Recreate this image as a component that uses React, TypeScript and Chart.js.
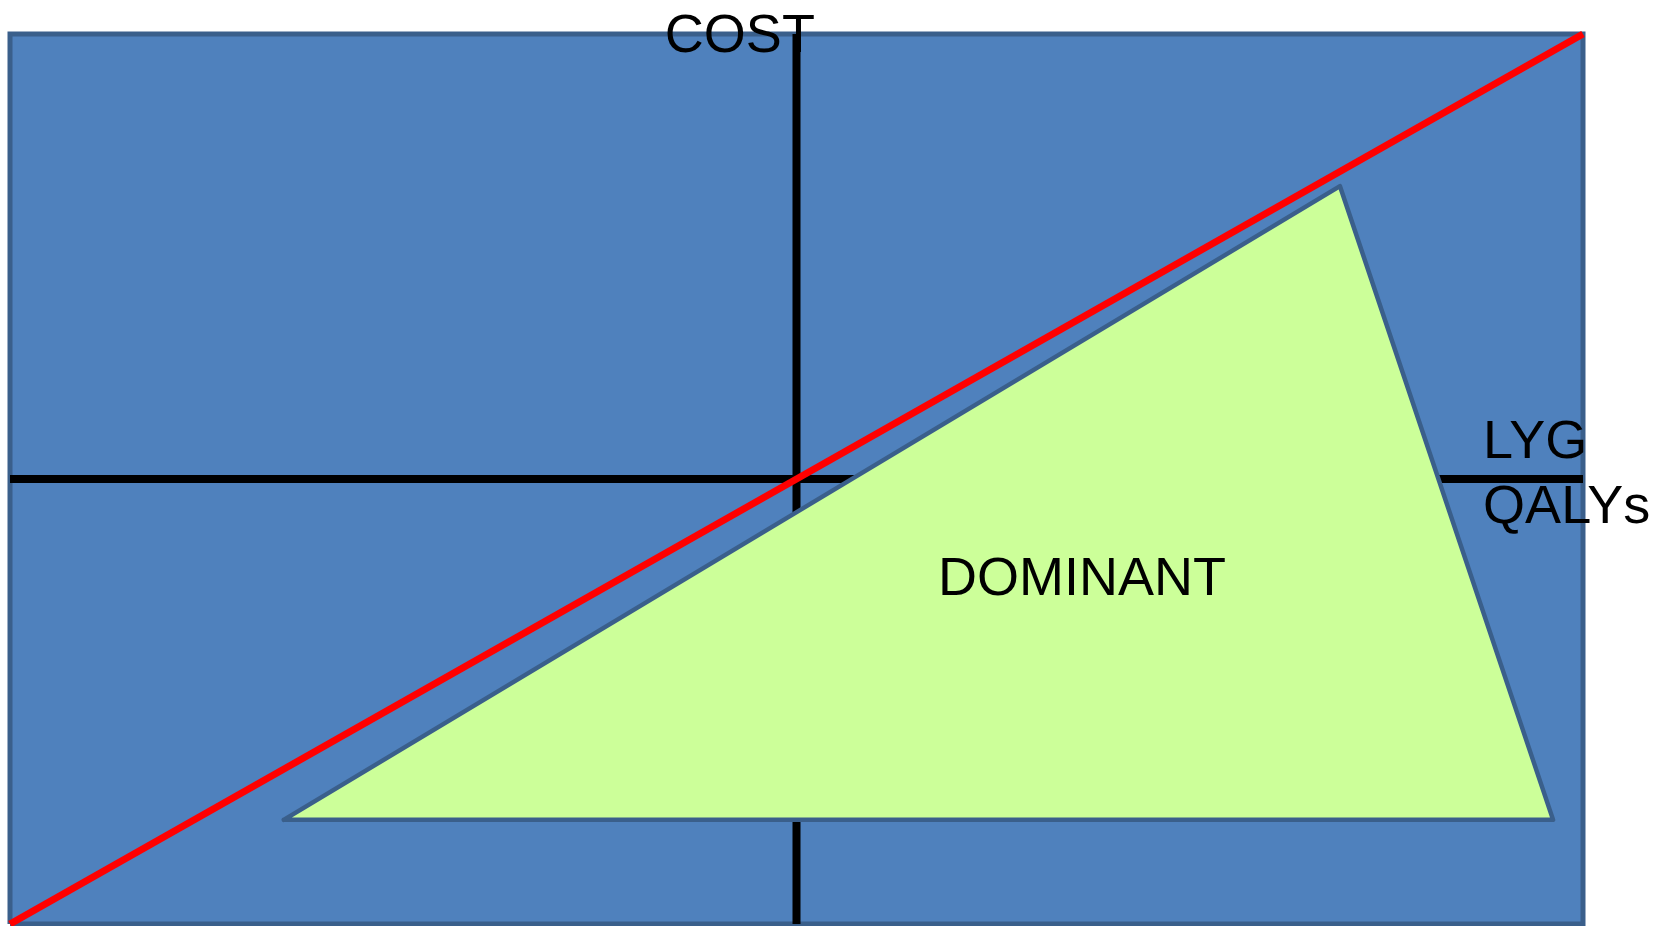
import { useEffect, useRef } from "react";
import { Chart, registerables } from "chart.js";

Chart.register(...registerables);

// Cost-effectiveness plane, in normalised units (-1..1 on both axes)
const planeTopX = [-1, 1];
const planeTopY = [1, 1];
const planeBottom = -1;
const planeX = [-1, -1, 1, 1, -1];
const planeY = [-1, 1, 1, -1, -1];
const costAxisX = [0, 0];
const costAxisY = [-1, 1];
const effectAxisX = [-1, 1];
const effectAxisY = [0, 0];
const thresholdX = [-1, 1];
const thresholdY = [-1, 1];
const dominantTopX = [-0.652, 0.691, 0.962];
const dominantTopY = [-0.766, 0.658, -0.766];
const dominantBase = -0.766;
const dominantX = [-0.652, 0.691, 0.962, -0.652];
const dominantY = [-0.766, 0.658, -0.766, -0.766];

const labelTexts = ["COST", "LYG", "QALYs", "DOMINANT"];
const labelX = [-0.072, 0.873, 0.873, 0.363];
const labelY = [0.96, 0.047, -0.099, -0.261];
const labelAlign: CanvasTextAlign[] = ["center", "left", "left", "center"];

const pts = (xs: number[], ys: number[]) => xs.map((x, i) => ({ x, y: ys[i] }));

export default function App() {
  const ref = useRef<HTMLCanvasElement | null>(null);

  useEffect(() => {
    if (!ref.current) return;
    const labelPlugin = {
      id: "labels",
      afterDatasetsDraw(chart: any) {
        const { ctx, scales } = chart;
        ctx.save();
        ctx.fillStyle = "#000000";
        ctx.font = "54px 'Liberation Sans', Arial, sans-serif";
        ctx.textBaseline = "alphabetic";
        labelTexts.forEach((t, i) => {
          ctx.textAlign = labelAlign[i];
          ctx.fillText(t, scales.x.getPixelForValue(labelX[i]), scales.y.getPixelForValue(labelY[i]));
        });
        ctx.restore();
      },
    };
    const chart = new Chart(ref.current, {
      type: "line",
      data: {
        datasets: [
          {
            label: "plane fill",
            data: pts(planeTopX, planeTopY),
            borderWidth: 0,
            borderColor: "rgba(0,0,0,0)",
            backgroundColor: "#4F81BD",
            fill: { value: planeBottom },
            order: 8,
            clip: false,
          },
          {
            label: "plane border",
            data: pts(planeX, planeY),
            borderColor: "#3A5F8B",
            borderWidth: 5,
            fill: false,
            order: 7,
            clip: false,
            borderJoinStyle: "miter",
          },
          {
            label: "cost axis",
            data: pts(costAxisX, costAxisY),
            borderColor: "#000000",
            borderWidth: 8,
            fill: false,
            order: 6,
            clip: false,
          },
          {
            label: "effect axis",
            data: pts(effectAxisX, effectAxisY),
            borderColor: "#000000",
            borderWidth: 8,
            fill: false,
            order: 5,
            clip: false,
          },
          {
            label: "dominant fill",
            data: pts(dominantTopX, dominantTopY),
            borderWidth: 0,
            borderColor: "rgba(0,0,0,0)",
            backgroundColor: "#CCFF99",
            fill: { value: dominantBase },
            order: 4,
            clip: false,
          },
          {
            label: "dominant border",
            data: pts(dominantX, dominantY),
            borderColor: "#3A5F8B",
            borderWidth: 4.5,
            fill: false,
            order: 3,
            clip: false,
            borderJoinStyle: "round",
            borderCapStyle: "round",
          },
          {
            label: "threshold",
            data: pts(thresholdX, thresholdY),
            borderColor: "#FF0000",
            borderWidth: 7,
            fill: false,
            order: 2,
            clip: false,
          },
        ],
      },
      options: {
        animation: false,
        responsive: false,
        maintainAspectRatio: false,
        layout: { padding: { left: 10, right: 81, top: 34, bottom: 2 } },
        elements: { point: { radius: 0, hoverRadius: 0 }, line: { tension: 0 } },
        scales: {
          x: { type: "linear", min: -1, max: 1, display: false },
          y: { type: "linear", min: -1, max: 1, display: false },
        },
        plugins: { legend: { display: false }, tooltip: { enabled: false } },
        events: [],
      },
      plugins: [labelPlugin],
    });
    return () => chart.destroy();
  }, []);

  return (
    <div style={{ position: "fixed", left: 0, top: 0, width: 1664, height: 926, background: "#ffffff" }}>
      <canvas ref={ref} width={1664} height={926} style={{ display: "block" }} />
    </div>
  );
}
